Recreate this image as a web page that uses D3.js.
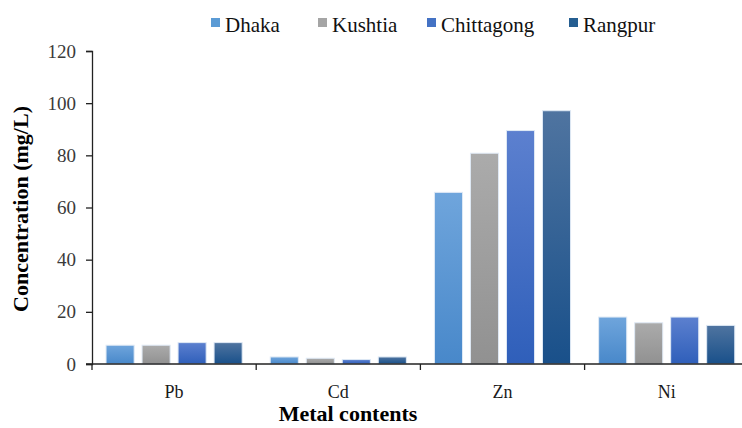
<!DOCTYPE html>
<html>
<head>
<meta charset="utf-8">
<script src="https://cdn.jsdelivr.net/npm/d3@7"></script>
<style>
  body { margin: 0; background: #fff; }
  svg { display: block; }
  svg text { font-family: "Liberation Serif", "Times New Roman", serif; }
</style>
</head>
<body>
<svg id="chart"></svg>
<script>
// metal concentration by region
var metals = ["Pb", "Cd", "Zn", "Ni"];
var regions = ["Dhaka", "Kushtia", "Chittagong", "Rangpur"];
var dhaka = [7.2, 2.7, 65.8, 18.0];
var kushtia = [7.2, 2.2, 80.8, 15.8];
var chittagong = [8.2, 1.7, 89.5, 18.0];
var rangpur = [8.2, 2.7, 97.1, 14.8];
var yTicks = [0, 20, 40, 60, 80, 100, 120];

var values = [dhaka, kushtia, chittagong, rangpur];

var width = 742, height = 428;
var svg = d3.select("#chart").attr("width", width).attr("height", height);

// colours: top / bottom of each bar gradient, and legend swatch
var colTop = ["#6fa5dc", "#ababab", "#5c80cf", "#4f74a0"];
var colBot = ["#4888ca", "#919191", "#2f5fba", "#19508a"];
var colKey = ["#5b9bd5", "#a5a5a5", "#4472c4", "#255e91"];

var defs = svg.append("defs");
regions.forEach(function(r, i) {
  var g = defs.append("linearGradient")
    .attr("id", "grad" + i)
    .attr("x1", 0).attr("y1", 0).attr("x2", 0).attr("y2", 1);
  g.append("stop").attr("offset", "0%").attr("stop-color", colTop[i]);
  g.append("stop").attr("offset", "100%").attr("stop-color", colBot[i]);
});

var x = d3.scaleBand().domain(metals).range([92, 92 + 4 * 164.2]).padding(0);
var xs = d3.scaleBand().domain(regions).range([0, x.bandwidth()])
  .paddingInner(0.22).paddingOuter(0.39);
var y = d3.scaleLinear().domain([0, 120]).range([364, 51]);

// bars
var groups = svg.append("g").selectAll("g")
  .data(metals)
  .enter().append("g")
  .attr("transform", function(d) { return "translate(" + x(d) + ",0)"; });

groups.selectAll("rect")
  .data(function(d, mi) {
    return regions.map(function(r, ri) { return { r: r, ri: ri, v: values[ri][mi] }; });
  })
  .enter().append("rect")
  .attr("x", function(d) { return xs(d.r); })
  .attr("y", function(d) { return y(d.v); })
  .attr("width", xs.bandwidth())
  .attr("height", function(d) { return y(0) - y(d.v); })
  .attr("fill", function(d) { return "url(#grad" + d.ri + ")"; })
  .attr("stroke", "#dfe9f5")
  .attr("stroke-width", 1);

// y axis
var yAxis = svg.append("g")
  .attr("transform", "translate(92,0)")
  .call(d3.axisLeft(y).tickValues(yTicks).tickSize(6).tickPadding(10));
yAxis.attr("font-family", null);
yAxis.select(".domain").attr("stroke", "#222").attr("stroke-width", 1.3);
yAxis.selectAll(".tick line").attr("stroke", "#222").attr("stroke-width", 1.3);
yAxis.selectAll("text")
  .attr("font-size", 19)
  .attr("fill", "#3a3a3a");

// x axis: ticks on category boundaries
var xAxis = svg.append("g").attr("transform", "translate(0,364)");
xAxis.append("line")
  .attr("x1", 86).attr("x2", width)
  .attr("stroke", "#222").attr("stroke-width", 1.3);
xAxis.selectAll(".sep")
  .data(metals)
  .enter().append("line")
  .attr("x1", function(d) { return x(d); })
  .attr("x2", function(d) { return x(d); })
  .attr("y1", 0).attr("y2", 6)
  .attr("stroke", "#222").attr("stroke-width", 1.3);
xAxis.selectAll(".lab")
  .data(metals)
  .enter().append("text")
  .attr("x", function(d) { return x(d) + x.bandwidth() / 2; })
  .attr("y", 34)
  .attr("text-anchor", "middle")
  .attr("font-size", 18)
  .attr("fill", "#1a1a1a")
  .text(function(d) { return d; });

// axis titles
svg.append("text")
  .attr("x", 348).attr("y", 421)
  .attr("text-anchor", "middle")
  .attr("font-weight", "bold")
  .attr("font-size", 22)
  .text("Metal contents");

svg.append("text")
  .attr("transform", "translate(28,209) rotate(-90)")
  .attr("text-anchor", "middle")
  .attr("font-weight", "bold")
  .attr("font-size", 22)
  .text("Concentration (mg/L)");

// legend
var legX = [211, 318, 427, 569];
var leg = svg.append("g").selectAll("g")
  .data(regions)
  .enter().append("g")
  .attr("transform", function(d, i) { return "translate(" + legX[i] + ",18)"; });
leg.append("rect")
  .attr("width", 9).attr("height", 9)
  .attr("fill", function(d, i) { return colKey[i]; });
leg.append("text")
  .attr("x", 14).attr("y", 14)
  .attr("font-size", 21)
  .attr("fill", "#111")
  .text(function(d) { return d; });
</script>
</body>
</html>
